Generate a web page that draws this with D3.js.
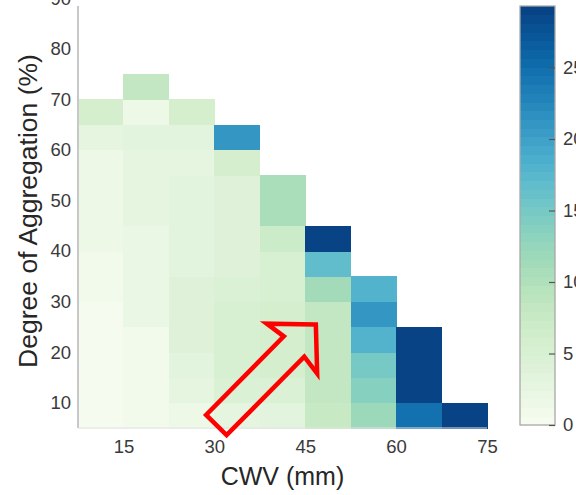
<!DOCTYPE html>
<html>
<head>
<meta charset="utf-8">
<script src="https://cdn.jsdelivr.net/npm/d3@7"></script>
<style>
  body { margin: 0; background: #fff; }
  svg { display: block; }
  text { font-family: "Liberation Sans", Arial, Helvetica, sans-serif; }
</style>
</head>
<body>
<svg id="chart" width="576" height="495"></svg>
<script>
// Bin layout: left edges of CWV bins (mm) and lower edges of aggregation bins (%)
const cwvStarts = [7.5, 15, 22.5, 30, 37.5, 45, 52.5, 60, 67.5];
const cwvStep = 7.5;
const aggStarts = [5, 10, 15, 20, 25, 30, 35, 40, 45, 50, 55, 60, 65, 70];
const aggStep = 5;

// Frequency per bin: one row per aggregation bin (bottom to top), one column per CWV bin.
// null = no samples in that bin.
const frequency = [
  [0.5, 0.8, 1.5, 3.0, 3.5, 7.5, 12.0, 25.0, 28.8],   // 5-10 %
  [0.5, 1.0, 3.0, 4.5, 4.5, 8.2, 14.0, 28.8, null],   // 10-15
  [0.6, 1.2, 3.5, 5.0, 5.5, 8.0, 15.0, 28.8, null],   // 15-20
  [0.6, 1.2, 4.0, 5.2, 5.8, 8.2, 18.3, 28.8, null],   // 20-25
  [0.6, 2.0, 4.2, 5.2, 5.8, 8.2, 21.0, null, null],   // 25-30
  [0.8, 2.0, 4.2, 4.8, 5.2, 11.4, 18.0, null, null],  // 30-35
  [1.2, 2.3, 3.3, 4.0, 5.0, 17.0, null, null, null],  // 35-40
  [1.3, 2.3, 3.3, 4.0, 7.3, 28.8, null, null, null],  // 40-45
  [1.5, 2.5, 3.5, 3.7, 10.5, null, null, null, null], // 45-50
  [1.5, 2.5, 3.5, 3.7, 10.5, null, null, null, null], // 50-55
  [1.8, 2.5, 2.5, 5.5, null, null, null, null, null], // 55-60
  [3.0, 3.2, 3.2, 21.0, null, null, null, null, null],// 60-65
  [5.5, 1.5, 5.5, null, null, null, null, null, null],// 65-70
  [null, 8.0, null, null, null, null, null, null, null] // 70-75
];

const xTicks = [15, 30, 45, 60, 75];
const yTicks = [10, 20, 30, 40, 50, 60, 70, 80, 90];
const colorTicks = [0, 5, 10, 15, 20, 25];
const colorMax = 29.3;
const colorLevels = 48;

// Annotation arrow, tail and tip in data units (CWV mm, aggregation %)
const arrowTail = [30.1, 5.3];
const arrowTip = [47.1, 25.9];

const svg = d3.select("#chart");

const x = d3.scaleLinear().domain([7.5, 75]).range([78, 487]);
const y = d3.scaleLinear().domain([5, 90]).range([428, -1.8]);

// Discrete GnBu colormap shared by the cells and the colorbar
const palette = d3.range(colorLevels).map(k => d3.interpolateGnBu((k + 0.5) / colorLevels));
const color = d3.scaleQuantize().domain([0, colorMax]).range(palette);

// Heatmap cells
const cells = [];
frequency.forEach((row, i) => {
  row.forEach((v, j) => {
    if (v !== null) cells.push({ cwv: cwvStarts[j], agg: aggStarts[i], v });
  });
});

svg.append("g")
  .attr("shape-rendering", "crispEdges")
  .selectAll("rect")
  .data(cells)
  .join("rect")
  .attr("x", d => x(d.cwv))
  .attr("y", d => y(d.agg + aggStep))
  .attr("width", d => x(d.cwv + cwvStep) - x(d.cwv) + 0.5)
  .attr("height", d => y(d.agg) - y(d.agg + aggStep) + 0.5)
  .attr("fill", d => color(d.v));

// Axis lines
svg.append("line")
  .attr("x1", x(7.5)).attr("x2", x(7.5))
  .attr("y1", 6).attr("y2", y(5))
  .attr("stroke", "#c8c8c8").attr("stroke-width", 2);
svg.append("line")
  .attr("x1", x(7.5)).attr("x2", x(75))
  .attr("y1", y(5)).attr("y2", y(5))
  .attr("stroke", "#e2e2e2").attr("stroke-width", 1);

// X axis tick labels
const gx = svg.append("g")
  .attr("transform", `translate(0,${y(5)})`)
  .call(d3.axisBottom(x).tickValues(xTicks).tickSize(0).tickPadding(12).tickFormat(d3.format("d")));
gx.select(".domain").remove();
gx.selectAll("text").attr("font-size", 18.5).attr("fill", "#3a3a3a").style("font-family", null);

// Y axis tick labels
const gy = svg.append("g")
  .attr("transform", `translate(${x(7.5)},0)`)
  .call(d3.axisLeft(y).tickValues(yTicks).tickSize(0).tickPadding(7).tickFormat(d3.format("d")));
gy.select(".domain").remove();
gy.selectAll("text").attr("font-size", 18.5).attr("fill", "#3a3a3a").style("font-family", null);

// Axis titles
svg.append("text")
  .attr("x", (x(7.5) + x(75)) / 2)
  .attr("y", 485)
  .attr("text-anchor", "middle")
  .attr("font-size", 25)
  .attr("fill", "#262626")
  .text("CWV (mm)");

svg.append("text")
  .attr("transform", `translate(36.5,211) rotate(-90)`)
  .attr("text-anchor", "middle")
  .attr("font-size", 26.5)
  .attr("fill", "#262626")
  .text("Degree of Aggregation (%)");

// Colorbar
const cbX = 520, cbW = 35;
const cScale = d3.scaleLinear().domain([0, colorMax]).range([425, 6]);
const step = colorMax / colorLevels;
svg.append("g")
  .attr("shape-rendering", "crispEdges")
  .selectAll("rect")
  .data(palette)
  .join("rect")
  .attr("x", cbX)
  .attr("width", cbW)
  .attr("y", (c, k) => cScale((k + 1) * step))
  .attr("height", (c, k) => cScale(k * step) - cScale((k + 1) * step) + 0.5)
  .attr("fill", c => c);
svg.append("rect")
  .attr("x", cbX).attr("y", cScale(colorMax))
  .attr("width", cbW).attr("height", cScale(0) - cScale(colorMax))
  .attr("fill", "none").attr("stroke", "#a8a8a8").attr("stroke-width", 1.3);

const gc = svg.append("g")
  .attr("transform", `translate(${cbX + cbW},0)`)
  .call(d3.axisRight(cScale).tickValues(colorTicks).tickSize(-6).tickPadding(8).tickFormat(d3.format("d")));
gc.select(".domain").remove();
gc.selectAll(".tick line").attr("stroke", "#555").attr("stroke-width", 1.2);
gc.selectAll("text").attr("font-size", 18.5).attr("fill", "#3a3a3a").style("font-family", null);

// Outlined annotation arrow
const p0 = [x(arrowTail[0]), y(arrowTail[1])];
const p1 = [x(arrowTip[0]), y(arrowTip[1])];
const len = Math.hypot(p1[0] - p0[0], p1[1] - p0[1]);
const u = [(p1[0] - p0[0]) / len, (p1[1] - p0[1]) / len];
const n = [-u[1], u[0]];
const shaftHalf = 14.4, headHalf = 35.5, headBack = 36, notchBack = 34;
const local = [
  [-3, 0],
  [-headBack - 1, -headHalf],
  [-notchBack, -shaftHalf],
  [-len + 2, -shaftHalf],
  [-len + 2, shaftHalf],
  [-notchBack, shaftHalf],
  [-headBack - 1, headHalf]
];
const pts = local.map(([a, b]) => [p1[0] + a * u[0] + b * n[0], p1[1] + a * u[1] + b * n[1]]);
svg.append("polygon")
  .attr("points", pts.map(p => p.join(",")).join(" "))
  .attr("fill", "none")
  .attr("stroke", "#ff0000")
  .attr("stroke-width", 4.5)
  .attr("stroke-linejoin", "miter")
  .attr("stroke-miterlimit", 10);
</script>
</body>
</html>
